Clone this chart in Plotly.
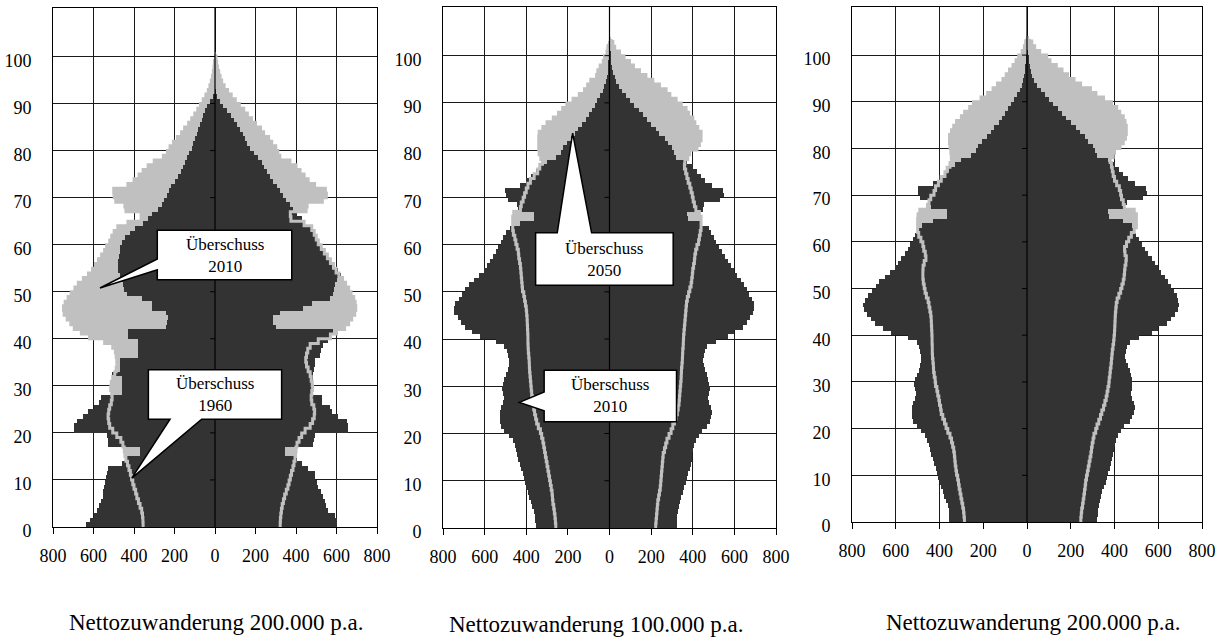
import plotly.graph_objects as go

# ---------------- data (thousands per single year of age) ----------------
# 1960, men / women (age 0 upward)
pop1960_m = [637, 617, 596, 584, 573, 565, 555, 551, 548, 543,
             538, 535, 527, 461, 440, 370, 370, 527, 527, 532,
             696, 696, 680, 650, 625, 600, 571, 565, 461, 461,
             461, 461, 507, 469, 469, 469, 380, 380, 379, 382,
             428, 428, 240, 235, 230, 240, 313, 313, 360, 436,
             450, 455, 462, 470, 477, 477, 477, 474, 470, 469,
             460, 444, 420, 395, 354, 330, 313, 280, 263, 250,
             239, 228, 215, 200, 185, 170, 160, 148, 138, 126,
             115, 107, 99, 90, 82, 74, 66, 57, 49, 41,
             25, 10]
pop1960_f = [600, 600, 595, 560, 550, 543, 535, 525, 510, 502,
             494, 494, 460, 430, 400, 346, 346, 486, 490, 494,
             658, 658, 650, 609, 580, 568, 527, 527, 485, 485,
             485, 485, 486, 490, 494, 494, 520, 525, 535, 560,
             575, 584, 300, 288, 288, 320, 436, 480, 568, 584,
             590, 595, 600, 620, 605, 590, 575, 560, 545, 530,
             515, 505, 495, 482, 445, 430, 405, 387, 372, 352,
             337, 320, 305, 288, 272, 256, 242, 230, 212, 192,
             173, 160, 148, 136, 123, 110, 95, 78, 58, 40,
             25, 12, 4]
# 2010
pop2010_m = [355, 356, 358, 362, 370, 378, 386, 392, 400, 406,
             412, 418, 425, 432, 440, 445, 448, 455, 465, 485,
             505, 520, 525, 528, 525, 520, 512, 508, 510, 515,
             512, 505, 495, 488, 484, 485, 488, 492, 505, 545,
             620, 660, 695, 712, 730, 745, 748, 740, 725, 710,
             692, 675, 650, 625, 605, 590, 575, 560, 545, 535,
             520, 510, 498, 480, 430, 365, 365, 440, 445, 490,
             498, 500, 430, 400, 375, 355, 330, 300, 255, 235,
             222, 205, 185, 165, 150, 130, 115, 100, 85, 72,
             58, 45, 33, 25, 18, 12, 8, 5, 3, 1]
pop2010_f = [322, 323, 325, 328, 332, 338, 344, 352, 360, 366,
             372, 378, 385, 390, 395, 398, 400, 405, 415, 428,
             445, 470, 482, 490, 492, 488, 478, 475, 478, 482,
             480, 475, 470, 460, 452, 448, 452, 458, 470, 510,
             570, 600, 640, 660, 675, 690, 695, 692, 685, 672,
             660, 645, 630, 612, 598, 585, 570, 555, 540, 525,
             510, 500, 490, 478, 440, 375, 372, 450, 455, 530,
             550, 545, 492, 460, 440, 420, 400, 370, 320, 310,
             300, 280, 265, 240, 225, 200, 180, 160, 142, 120,
             100, 80, 62, 45, 33, 25, 18, 12, 8, 5, 3]
# 2050, net migration 100.000 p.a.
pop2050_100k_m = [258, 260, 262, 265, 268, 272, 274, 276, 280, 284,
                  288, 292, 296, 300, 304, 308, 312, 316, 320, 326,
                  332, 342, 350, 355, 360, 364, 368, 370, 374, 376,
                  378, 380, 382, 384, 385, 386, 388, 390, 391, 392,
                  392, 393, 394, 395, 396, 398, 400, 404, 408, 412,
                  418, 420, 422, 424, 426, 428, 432, 436, 438, 444,
                  450, 455, 462, 465, 465, 465, 460, 428, 424, 415,
                  408, 400, 392, 380, 362, 345, 335, 322, 330, 338,
                  340, 340, 340, 338, 320, 300, 270, 245, 225, 205,
                  175, 145, 120, 105, 90, 62, 56, 45, 30, 24,
                  12, 8, 5]
pop2050_100k_f = [222, 224, 226, 228, 230, 232, 236, 240, 244, 246,
                  248, 250, 252, 254, 256, 258, 264, 270, 276, 286,
                  296, 304, 312, 320, 326, 330, 334, 336, 338, 340,
                  342, 344, 345, 346, 348, 350, 351, 352, 354, 355,
                  356, 358, 360, 362, 364, 366, 368, 370, 374, 380,
                  386, 392, 395, 398, 400, 404, 408, 410, 414, 420,
                  428, 432, 436, 440, 440, 440, 432, 415, 408, 402,
                  398, 392, 386, 378, 372, 366, 360, 362, 376, 385,
                  420, 432, 440, 440, 424, 410, 400, 380, 368, 345,
                  320, 290, 272, 240, 208, 175, 144, 115, 96, 70,
                  48, 25, 16, 8]
# 2050, net migration 200.000 p.a.
pop2050_200k_m = [286, 288, 290, 294, 298, 302, 306, 310, 313, 317,
                  322, 325, 328, 330, 332, 335, 340, 345, 352, 362,
                  370, 377, 385, 392, 395, 400, 403, 408, 412, 418,
                  420, 424, 427, 428, 430, 432, 433, 433, 434, 434,
                  435, 436, 437, 438, 440, 444, 448, 452, 460, 466,
                  470, 474, 476, 476, 475, 470, 462, 465, 472, 476,
                  485, 495, 500, 500, 500, 498, 490, 455, 448, 440,
                  425, 418, 405, 392, 375, 365, 352, 345, 346, 348,
                  352, 354, 354, 345, 335, 322, 300, 285, 262, 245,
                  210, 180, 155, 135, 110, 95, 80, 64, 50, 38,
                  22, 12, 6, 3]
pop2050_200k_f = [246, 248, 250, 254, 257, 260, 263, 266, 268, 272,
                  276, 280, 284, 288, 292, 295, 298, 302, 306, 314,
                  320, 328, 336, 342, 350, 356, 362, 366, 370, 374,
                  376, 379, 381, 384, 386, 388, 390, 393, 396, 398,
                  400, 401, 402, 403, 404, 406, 408, 412, 420, 428,
                  434, 440, 444, 446, 448, 452, 454, 448, 446, 455,
                  465, 477, 490, 500, 500, 500, 490, 445, 440, 432,
                  428, 422, 410, 400, 394, 390, 386, 380, 394, 400,
                  425, 440, 450, 454, 454, 448, 440, 424, 410, 386,
                  350, 315, 290, 245, 215, 185, 160, 134, 105, 90,
                  58, 35, 22, 10]

x_tick_vals = [-800, -600, -400, -200, 0, 200, 400, 600, 800]
x_tick_text = ["800", "600", "400", "200", "0", "200", "400", "600", "800"]
age_ticks = [0, 10, 20, 30, 40, 50, 60, 70, 80, 90, 100]

titles = ["Nettozuwanderung 200.000 p.a.",
          "Nettozuwanderung 100.000 p.a.",
          "Nettozuwanderung 200.000 p.a."]

# callouts: (panel, text, box left, right, bottom, top, side, base a, base b, tip x, tip y)
callouts = [
    (1, "Überschuss<br>2010", -285, 379, 52.55, 63.04, "left", 54.68, 56.96, -568, 50.8),
    (1, "Überschuss<br>1960", -329, 329, 22.9, 33.4, "bottom", -222, -66, -411, 10.4),
    (2, "Überschuss<br>2050", -355, 306, 51.4, 62.5, "top", -251, -86, -177, 83.6),
    (2, "Überschuss<br>2010", -314, 322, 22.5, 33.4, "left", 24.8, 28.8, -433, 26.6),
]

# ---------------- styling / layout ----------------
W, H = 1220, 639
DARK = "#333333"
GRAY = "#c0c0c0"
FONT = "Liberation Serif, Times New Roman, serif"
Y_TOP = 110.3

panels = [
    dict(dark_m=pop1960_m, dark_f=pop1960_f, gray_m=pop2010_m, gray_f=pop2010_f,
         xpx=(53, 377), ypx=(8, 527), title_x=216, title_y=622),
    dict(dark_m=pop2010_m, dark_f=pop2010_f, gray_m=pop2050_100k_m, gray_f=pop2050_100k_f,
         xpx=(443, 776), ypx=(7, 528), title_x=596, title_y=624),
    dict(dark_m=pop2010_m, dark_f=pop2010_f, gray_m=pop2050_200k_m, gray_f=pop2050_200k_f,
         xpx=(852, 1202), ypx=(7, 522), title_x=1033, title_y=622),
]

fig = go.Figure()
shapes = []
annotations = []


def bar(vals, sign, color, xa, ya):
    return go.Bar(x=[sign * v for v in vals], y=[a + 0.5 for a in range(len(vals))],
                  orientation="h", width=1, marker=dict(color=color, line=dict(width=0)),
                  xaxis=xa, yaxis=ya, hoverinfo="skip", showlegend=False)


def edge_line(vals, sign, xa, ya):
    xs = [sign * vals[0]] + [sign * v for v in vals]
    ys = [0] + [a + 0.5 for a in range(len(vals))]
    return go.Scatter(x=xs, y=ys, mode="lines", line=dict(color=GRAY, width=3, shape="vhv"),
                      xaxis=xa, yaxis=ya, hoverinfo="skip", showlegend=False)


layout_axes = {}
for i, p in enumerate(panels, start=1):
    xa = "x" if i == 1 else f"x{i}"
    ya = "y" if i == 1 else f"y{i}"
    # gray (later year) behind, dark (earlier year) in front, gray outline on top
    fig.add_trace(bar(p["gray_m"], -1, GRAY, xa, ya))
    fig.add_trace(bar(p["gray_f"], 1, GRAY, xa, ya))
    fig.add_trace(bar(p["dark_m"], -1, DARK, xa, ya))
    fig.add_trace(bar(p["dark_f"], 1, DARK, xa, ya))
    fig.add_trace(edge_line(p["gray_m"], -1, xa, ya))
    fig.add_trace(edge_line(p["gray_f"], 1, xa, ya))

    xd = [p["xpx"][0] / W, p["xpx"][1] / W]
    yd = [1 - p["ypx"][1] / H, 1 - p["ypx"][0] / H]
    layout_axes["xaxis" if i == 1 else f"xaxis{i}"] = dict(
        domain=xd, anchor=ya, range=[-800, 800], tickvals=x_tick_vals, ticktext=x_tick_text,
        showgrid=True, gridcolor="#1a1a1a", gridwidth=1, zeroline=False,
        showline=True, linecolor="#000000", linewidth=1, mirror=True,
        ticks="outside", ticklen=6, tickcolor="#000000", tickwidth=1,
        tickfont=dict(family=FONT, size=18, color="#000000"),
        ticklabelstandoff=6, fixedrange=True, automargin=False)
    layout_axes["yaxis" if i == 1 else f"yaxis{i}"] = dict(
        domain=yd, anchor=xa, range=[0, Y_TOP], tickvals=age_ticks,
        ticktext=[str(t) for t in age_ticks],
        showgrid=True, gridcolor="#1a1a1a", gridwidth=1, zeroline=False,
        showline=True, linecolor="#000000", linewidth=1, mirror=True,
        ticks="", tickfont=dict(family=FONT, size=18, color="#000000"),
        ticklabelstandoff=17, ticklabelshift=4, fixedrange=True, automargin=False)

    # central vertical axis with small ticks
    shapes.append(dict(type="line", xref=xa, yref=ya, x0=0, x1=0, y0=0, y1=Y_TOP,
                       line=dict(color="#000000", width=1.2), layer="above"))
    for t in age_ticks[1:]:
        shapes.append(dict(type="line", xref=xa, yref=ya, xsizemode="pixel", xanchor=0,
                           x0=-5, x1=0, y0=t, y1=t,
                           line=dict(color="#000000", width=1), layer="above"))

    annotations.append(dict(text=titles[i - 1], xref="paper", yref="paper",
                            x=p["title_x"] / W, y=1 - p["title_y"] / H,
                            xanchor="center", yanchor="middle", showarrow=False,
                            font=dict(family=FONT, size=23, color="#000000")))

for (pi, text, l, r, b, t, side, ba, bb, tx, ty) in callouts:
    xa = "x" if pi == 1 else f"x{pi}"
    ya = "y" if pi == 1 else f"y{pi}"
    if side == "left":
        path = (f"M {l},{t} L {r},{t} L {r},{b} L {l},{b} L {l},{ba} "
                f"L {tx},{ty} L {l},{bb} Z")
    elif side == "bottom":
        path = (f"M {l},{t} L {r},{t} L {r},{b} L {bb},{b} L {tx},{ty} "
                f"L {ba},{b} L {l},{b} Z")
    else:  # top
        path = (f"M {l},{t} L {ba},{t} L {tx},{ty} L {bb},{t} L {r},{t} "
                f"L {r},{b} L {l},{b} Z")
    shapes.append(dict(type="path", xref=xa, yref=ya, path=path, fillcolor="#ffffff",
                       line=dict(color="#000000", width=1.5), layer="above"))
    annotations.append(dict(text=text, xref=xa, yref=ya, x=(l + r) / 2, y=(b + t) / 2,
                            xanchor="center", yanchor="middle", showarrow=False,
                            font=dict(family=FONT, size=17, color="#000000")))

fig.update_layout(
    width=W, height=H, margin=dict(l=0, r=0, t=0, b=0, autoexpand=False),
    paper_bgcolor="#ffffff", plot_bgcolor="#ffffff",
    barmode="overlay", bargap=0, showlegend=False,
    shapes=shapes, annotations=annotations, **layout_axes)

fig.write_html("out.html",
               config={"displayModeBar": False},
               post_script="document.body.style.margin='0';"
                           "document.body.style.overflow='hidden';")
